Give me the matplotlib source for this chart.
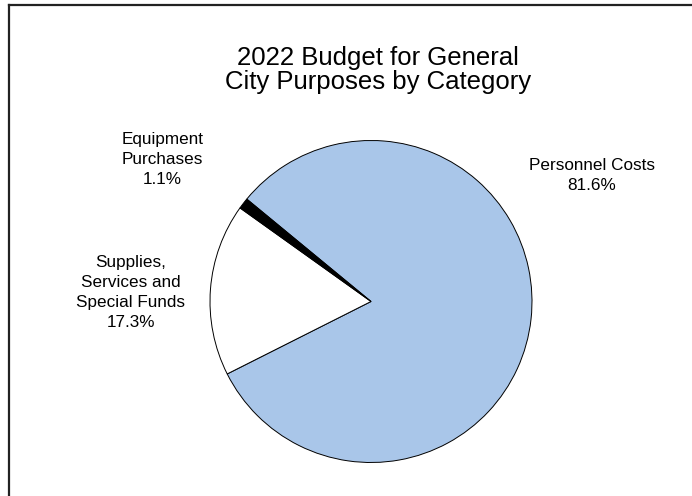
import matplotlib.pyplot as plt
from matplotlib.lines import Line2D

plt.rcParams['font.family'] = ['Liberation Sans', 'DejaVu Sans']

# Budget shares by category (percent)
categories = ['Personnel Costs', 'Supplies,\nServices and\nSpecial Funds', 'Equipment\nPurchases']
shares = [81.6, 17.3, 1.1]
colors = ['#a9c6e9', '#ffffff', '#000000']

W, H = 692, 496
fig = plt.figure(figsize=(W / 100, H / 100), dpi=100)

# square axes holding the pie, sized in pixels
cx, cy, r = 371, 301.5, 161
ax = fig.add_axes([(cx - r) / W, (H - cy - r) / H, 2 * r / W, 2 * r / H])
ax.pie(shares, colors=colors, startangle=140.5, counterclock=False,
       wedgeprops=dict(edgecolor='black', linewidth=0.7))
ax.set_xlim(-1, 1)
ax.set_ylim(-1, 1)

# multiline baseline alignment anchors the last line
fig.text(378 / W, 1 - 89.5 / H, '2022 Budget for General\nCity Purposes by Category',
         ha='center', va='baseline', fontsize=18.5, linespacing=1.05)

# label anchors in pixels (centre x, last baseline y from top)
label_pos = [(592, 190), (131, 327), (162.5, 184)]
for name, val, (x, y) in zip(categories, shares, label_pos):
    fig.text(x / W, 1 - y / H, f'{name}\n{val:.1f}%', ha='center', va='baseline',
             fontsize=12.3, linespacing=1.42)

# frame lines along the top and left edges
fig.add_artist(Line2D([9 / W, 1], [1 - 5 / H, 1 - 5 / H], color='#222222', lw=1.6,
                      transform=fig.transFigure))
fig.add_artist(Line2D([9 / W, 9 / W], [0, 1 - 5 / H], color='#222222', lw=1.6,
                      transform=fig.transFigure))

fig.savefig('out.png', dpi=100)
